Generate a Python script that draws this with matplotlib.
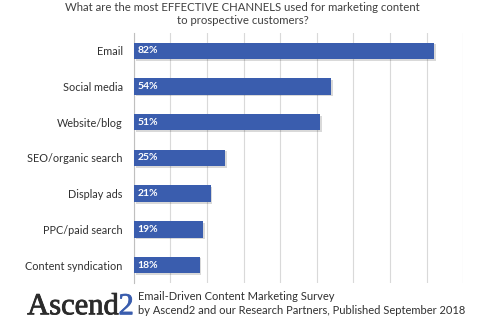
import matplotlib
matplotlib.use("Agg")
import matplotlib.pyplot as plt
import matplotlib.patheffects as pe
import numpy as np

# Survey results, top to bottom
channels = [
    "Email",
    "Social media",
    "Website/blog",
    "SEO/organic search",
    "Display ads",
    "PPC/paid search",
    "Content syndication",
]
percent = [82, 54, 51, 25, 21, 19, 18]

title = "What are the most EFFECTIVE CHANNELS used for marketing content\nto prospective customers?"
source_lines = [
    "Email-Driven Content Marketing Survey",
    "by Ascend2 and our Research Partners, Published September 2018",
]

plt.rcParams["font.family"] = ["Lato", "DejaVu Sans"]

fig = plt.figure(figsize=(4.85, 3.24), dpi=100)
fig.patch.set_facecolor("white")
ax = fig.add_axes([0.276, 0.127, 0.679, 0.771])

y = np.arange(len(channels))
bars = ax.barh(y, percent, height=0.46, color="#3a5dae", zorder=3)
for b in bars:
    b.set_path_effects([
        pe.SimplePatchShadow(offset=(1.2, -1.2), shadow_rgbFace="#000000", alpha=0.15),
        pe.Normal(),
    ])
    # percentage inside the bar
    ax.text(1.0, b.get_y() + b.get_height() / 2, f"{int(b.get_width())}%",
            color="white", fontsize=7.5, fontweight="bold",
            va="center", ha="left", zorder=4)

ax.set_xlim(0, 90)
ax.set_ylim(len(channels) - 0.5, -0.5)
ax.set_xticks(np.arange(0, 91, 10))
ax.set_xticklabels([])
ax.tick_params(axis="x", length=0)
ax.set_yticks(y)
ax.set_yticklabels(channels, fontsize=7.8, color="#303030")
ax.tick_params(axis="y", length=0, pad=8)
ax.grid(axis="x", color="#d9d9d9", linewidth=0.8, zorder=0)
for side in ["top", "right", "bottom"]:
    ax.spines[side].set_visible(False)
ax.spines["left"].set_color("#bfbfbf")
ax.spines["left"].set_linewidth(0.8)

fig.text(0.5, 0.995, title, ha="center", va="top", fontsize=8.2,
         color="#404040", linespacing=1.3)

# logo and source
logo = fig.text(0.056, 0.03, "Ascend", fontsize=22, family="Liberation Serif",
                color="#2b2b2b", ha="left", va="baseline",
                path_effects=[pe.withStroke(linewidth=0.6, foreground="#2b2b2b")])
fig.canvas.draw()
bb = logo.get_window_extent().transformed(fig.transFigure.inverted())
fig.text(bb.x1, 0.03, "2", fontsize=22, family="Liberation Serif",
         color="#3a5dae", ha="left", va="baseline",
         path_effects=[pe.withStroke(linewidth=0.6, foreground="#3a5dae")])
fig.text(0.285, 0.074, source_lines[0], fontsize=8.0, color="#303030",
         ha="left", va="baseline")
fig.text(0.285, 0.031, source_lines[1], fontsize=8.0, color="#303030",
         ha="left", va="baseline")

fig.savefig("out.png", dpi=100, facecolor="white")
